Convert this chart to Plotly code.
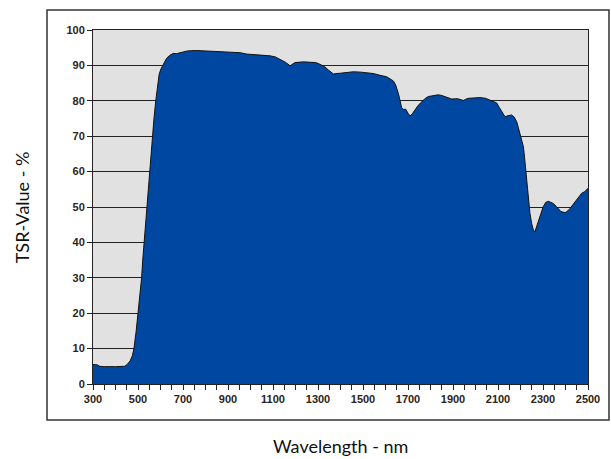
import plotly.graph_objects as go

wavelength = [300, 320, 330, 350, 400, 440, 450, 465, 475, 482, 492, 501, 508, 516, 521, 527, 532, 538, 544, 550,
              557, 564, 571, 579, 586, 594, 602, 610, 618, 627, 640, 657, 670, 687, 720, 760, 800, 830, 870, 900,
              953, 983, 1030, 1060, 1087, 1110, 1131, 1155, 1176, 1187, 1198, 1235, 1264, 1290, 1309, 1330, 1346,
              1358, 1368, 1400, 1430, 1457, 1490, 1520, 1546, 1576, 1605, 1635, 1645, 1657, 1664, 1672, 1679,
              1690, 1700, 1709, 1720, 1731, 1745, 1761, 1775, 1790, 1810, 1835, 1850, 1864, 1880, 1894, 1920, 1946,
              1955, 1968, 1990, 2020, 2045, 2064, 2080, 2094, 2105, 2116, 2131, 2145, 2161, 2172, 2183, 2190, 2198,
              2205, 2213, 2218, 2223, 2230, 2236, 2242, 2250, 2257, 2264, 2272, 2279, 2290, 2301, 2312, 2324, 2335,
              2346, 2358, 2368, 2380, 2398, 2410, 2420, 2435, 2450, 2462, 2472, 2485, 2497, 2500]
tsr = [5.5, 5.4, 5.0, 4.9, 4.9, 5.0, 5.4, 6.5, 8.0, 10, 15, 20, 25, 30, 35, 40, 45, 50, 55, 60,
       65, 70, 75, 80, 84, 87.5, 89, 90, 91.2, 92.0, 92.8, 93.4, 93.3, 93.6, 94.1, 94.2, 94.1, 94.1, 94.0, 93.8,
       93.6, 93.2, 93.0, 92.9, 92.7, 92.4, 91.7, 90.9, 89.9, 90.4, 90.8, 91.0, 91.0, 90.8, 90.3, 89.6, 88.7,
       88.0, 87.6, 87.8, 88.1, 88.2, 88.1, 87.9, 87.7, 87.2, 86.8, 85.6, 84.5, 82.1, 79.7, 78.0, 77.6,
       77.6, 76.5, 75.7, 76.4, 77.4, 78.7, 79.7, 80.6, 81.2, 81.5, 81.7, 81.5, 81.2, 80.7, 80.5, 80.6, 80.1,
       80.4, 80.7, 80.8, 80.9, 80.7, 80.2, 79.8, 79.4, 78.2, 76.9, 75.5, 75.8, 76.0, 75.4, 74.1, 72.5, 70.8,
       69, 67, 64, 60.5, 54.8, 51, 48.2, 45.2, 43.5, 43.0, 44.5, 46.3, 48.5, 50.1, 51.3, 51.6, 51.3,
       51.0, 50.2, 49.5, 48.7, 48.4, 48.9, 49.6, 50.8, 52.0, 53.2, 53.9, 54.3, 55.0, 55.3]

x_tick_labels = [str(v) for v in range(300, 2501, 200)]
y_tick_labels = [str(v) for v in range(0, 101, 10)]

fig = go.Figure()
fig.add_trace(go.Scatter(
    x=wavelength, y=tsr, mode="lines", fill="tozeroy",
    fillcolor="#0047a1", line=dict(color="#111111", width=1),
    hoverinfo="x+y", showlegend=False,
))

tickfont = dict(family="Liberation Sans, Arial, sans-serif", size=11, color="#2a2418", weight="bold")
titlefont = dict(family="Lato, Open Sans, sans-serif", size=18, color="#111111")

fig.update_layout(
    width=611, height=459,
    margin=dict(l=93, r=23, t=30, b=75),
    paper_bgcolor="white",
    plot_bgcolor="#e1e1e1",
    xaxis=dict(
        range=[300, 2500],
        tickvals=[int(v) for v in x_tick_labels], ticktext=x_tick_labels,
        ticks="outside", ticklen=5, tickcolor="#222222", tickwidth=1,
        minor=dict(dtick=50, tick0=300, ticks="outside", ticklen=5, tickcolor="#222222", showgrid=False),
        showgrid=False, zeroline=False,
        showline=True, linecolor="#222222", linewidth=1, mirror=True,
        tickfont=tickfont,
    ),
    yaxis=dict(
        range=[0, 100],
        tickvals=[int(v) for v in y_tick_labels], ticktext=y_tick_labels,
        ticks="outside", ticklen=5, tickcolor="#222222", tickwidth=1,
        showgrid=True, gridcolor="#222222", gridwidth=1, zeroline=False,
        showline=True, linecolor="#222222", linewidth=1, mirror=True,
        tickfont=tickfont,
    ),
    shapes=[dict(type="rect", xref="paper", yref="paper",
                 x0=-0.0929, x1=1.0424, y0=-0.1017, y1=1.0565,
                 line=dict(color="#333333", width=1.5), fillcolor="rgba(0,0,0,0)", layer="below")],
    annotations=[
        dict(text="TSR-Value - %", xref="paper", yref="paper", x=-0.143, y=0.5,
             textangle=-90, showarrow=False, xanchor="center", yanchor="middle",
             font=titlefont),
        dict(text="Wavelength - nm", xref="paper", yref="paper", x=0.5, y=-0.176,
             showarrow=False, xanchor="center", yanchor="middle",
             font=titlefont),
    ],
)

fig.write_html("out.html", config={"displayModeBar": False},
               post_script="document.body.style.margin='0';document.body.style.overflow='hidden';")
